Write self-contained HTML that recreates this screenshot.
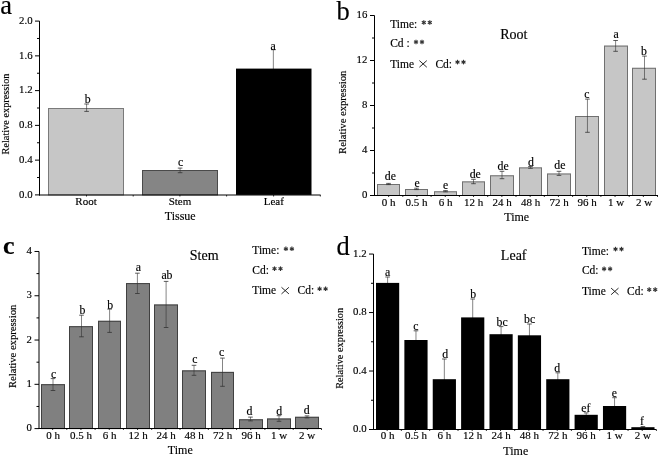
<!DOCTYPE html>
<html><head><meta charset="utf-8"><style>
html,body{margin:0;padding:0;background:#fff;width:660px;height:456px;overflow:hidden;}
svg{display:block;will-change:transform;}
text{font-family:"Liberation Serif", serif;stroke:#000;stroke-width:0.15px;}
</style></head><body>
<svg width="660" height="456" viewBox="0 0 660 456">
<rect width="660" height="456" fill="#fff"/>
<line x1="273.35" y1="49.7" x2="273.35" y2="88" stroke="#333" stroke-width="0.6"/>
<line x1="271.05" y1="49.7" x2="275.65" y2="49.7" stroke="#333" stroke-width="0.8"/>
<line x1="271.05" y1="88" x2="275.65" y2="88" stroke="#333" stroke-width="0.8"/>
<rect x="48" y="108" width="76" height="86.9" fill="#c6c6c6"/>
<rect x="48.5" y="108.5" width="75" height="86.4" fill="none" stroke="#7a7a7a" stroke-width="1"/>
<rect x="142" y="170" width="76" height="24.9" fill="#858585"/>
<rect x="142.5" y="170.5" width="75" height="24.4" fill="none" stroke="#4a4a4a" stroke-width="1"/>
<rect x="236" y="68.6" width="75.5" height="126.3" fill="#000"/>
<line x1="86.6" y1="104" x2="86.6" y2="111.4" stroke="#333" stroke-width="0.6"/>
<line x1="84.3" y1="104" x2="88.9" y2="104" stroke="#333" stroke-width="0.8"/>
<line x1="84.3" y1="111.4" x2="88.9" y2="111.4" stroke="#333" stroke-width="0.8"/>
<line x1="180.1" y1="168.1" x2="180.1" y2="172.7" stroke="#333" stroke-width="0.6"/>
<line x1="177.8" y1="168.1" x2="182.4" y2="168.1" stroke="#333" stroke-width="0.8"/>
<line x1="177.8" y1="172.7" x2="182.4" y2="172.7" stroke="#333" stroke-width="0.8"/>
<text font-size="11.8" text-anchor="middle" transform="translate(87.6,102.8) scale(1.0,1)">b</text>
<text font-size="11.8" text-anchor="middle" transform="translate(180.6,166.4) scale(1.0,1)">c</text>
<text font-size="11.8" text-anchor="middle" transform="translate(273.15,49.7) scale(1.0,1)">a</text>
<line x1="39.5" y1="21.1" x2="39.5" y2="195.5" stroke="#000" stroke-width="1"/>
<line x1="39" y1="195" x2="320.6" y2="195" stroke="#000" stroke-width="1"/>
<line x1="35" y1="194.9" x2="39.5" y2="194.9" stroke="#000" stroke-width="1"/>
<text x="32.6" y="197.6" font-size="10.8" text-anchor="end">0.0</text>
<line x1="35" y1="160.14" x2="39.5" y2="160.14" stroke="#000" stroke-width="1"/>
<text x="32.6" y="162.84" font-size="10.8" text-anchor="end">0.4</text>
<line x1="35" y1="125.38" x2="39.5" y2="125.38" stroke="#000" stroke-width="1"/>
<text x="32.6" y="128.08" font-size="10.8" text-anchor="end">0.8</text>
<line x1="35" y1="90.62" x2="39.5" y2="90.62" stroke="#000" stroke-width="1"/>
<text x="32.6" y="93.32" font-size="10.8" text-anchor="end">1.2</text>
<line x1="35" y1="55.86" x2="39.5" y2="55.86" stroke="#000" stroke-width="1"/>
<text x="32.6" y="58.56" font-size="10.8" text-anchor="end">1.6</text>
<line x1="35" y1="21.1" x2="39.5" y2="21.1" stroke="#000" stroke-width="1"/>
<text x="32.6" y="23.8" font-size="10.8" text-anchor="end">2.0</text>
<line x1="37" y1="177.52" x2="39.5" y2="177.52" stroke="#000" stroke-width="1"/>
<line x1="37" y1="142.76" x2="39.5" y2="142.76" stroke="#000" stroke-width="1"/>
<line x1="37" y1="108" x2="39.5" y2="108" stroke="#000" stroke-width="1"/>
<line x1="37" y1="73.24" x2="39.5" y2="73.24" stroke="#000" stroke-width="1"/>
<line x1="37" y1="38.48" x2="39.5" y2="38.48" stroke="#000" stroke-width="1"/>
<line x1="86.5" y1="195" x2="86.5" y2="196.5" stroke="#000" stroke-width="0.8"/>
<line x1="133.2" y1="195" x2="133.2" y2="196.5" stroke="#000" stroke-width="0.8"/>
<line x1="179.9" y1="195" x2="179.9" y2="196.5" stroke="#000" stroke-width="0.8"/>
<line x1="226.6" y1="195" x2="226.6" y2="196.5" stroke="#000" stroke-width="0.8"/>
<line x1="273.6" y1="195" x2="273.6" y2="196.5" stroke="#000" stroke-width="0.8"/>
<line x1="320.3" y1="195" x2="320.3" y2="196.5" stroke="#000" stroke-width="0.8"/>
<text x="86" y="205.4" font-size="11" text-anchor="middle">Root</text>
<text x="180" y="205.4" font-size="11" text-anchor="middle">Stem</text>
<text x="273.75" y="205.4" font-size="11" text-anchor="middle">Leaf</text>
<text x="180.2" y="219.6" font-size="12" text-anchor="middle">Tissue</text>
<text x="0" y="0" font-size="10.3" text-anchor="middle" transform="translate(9.2,114) rotate(-90)">Relative expression</text>
<text x="0.3" y="13.7" font-size="26.5">a</text>
<rect x="377" y="184" width="23" height="11.5" fill="#c6c6c6"/>
<rect x="377.5" y="184.5" width="22" height="11" fill="none" stroke="#707070" stroke-width="1"/>
<rect x="405" y="189" width="23" height="6.5" fill="#c6c6c6"/>
<rect x="405.5" y="189.5" width="22" height="6" fill="none" stroke="#707070" stroke-width="1"/>
<rect x="434" y="191.3" width="23" height="4.2" fill="#c6c6c6"/>
<rect x="434.5" y="191.8" width="22" height="3.7" fill="none" stroke="#707070" stroke-width="1"/>
<rect x="462" y="181.4" width="23" height="14.1" fill="#c6c6c6"/>
<rect x="462.5" y="181.9" width="22" height="13.6" fill="none" stroke="#707070" stroke-width="1"/>
<rect x="490" y="175.3" width="24" height="20.2" fill="#c6c6c6"/>
<rect x="490.5" y="175.8" width="23" height="19.7" fill="none" stroke="#707070" stroke-width="1"/>
<rect x="519" y="167.4" width="23" height="28.1" fill="#c6c6c6"/>
<rect x="519.5" y="167.9" width="22" height="27.6" fill="none" stroke="#707070" stroke-width="1"/>
<rect x="547" y="173.5" width="24" height="22" fill="#c6c6c6"/>
<rect x="547.5" y="174" width="23" height="21.5" fill="none" stroke="#707070" stroke-width="1"/>
<rect x="575" y="116" width="24" height="79.5" fill="#c6c6c6"/>
<rect x="575.5" y="116.5" width="23" height="79" fill="none" stroke="#707070" stroke-width="1"/>
<rect x="604" y="45.6" width="24" height="149.9" fill="#c6c6c6"/>
<rect x="604.5" y="46.1" width="23" height="149.4" fill="none" stroke="#707070" stroke-width="1"/>
<rect x="632" y="67.8" width="24" height="127.7" fill="#c6c6c6"/>
<rect x="632.5" y="68.3" width="23" height="127.2" fill="none" stroke="#707070" stroke-width="1"/>
<line x1="388.5" y1="183.4" x2="388.5" y2="184.6" stroke="#333" stroke-width="0.6"/>
<line x1="386.2" y1="183.4" x2="390.8" y2="183.4" stroke="#333" stroke-width="0.8"/>
<line x1="386.2" y1="184.6" x2="390.8" y2="184.6" stroke="#333" stroke-width="0.8"/>
<line x1="416.5" y1="188.2" x2="416.5" y2="189.6" stroke="#333" stroke-width="0.6"/>
<line x1="414.2" y1="188.2" x2="418.8" y2="188.2" stroke="#333" stroke-width="0.8"/>
<line x1="414.2" y1="189.6" x2="418.8" y2="189.6" stroke="#333" stroke-width="0.8"/>
<line x1="445.5" y1="190.6" x2="445.5" y2="191.8" stroke="#333" stroke-width="0.6"/>
<line x1="443.2" y1="190.6" x2="447.8" y2="190.6" stroke="#333" stroke-width="0.8"/>
<line x1="443.2" y1="191.8" x2="447.8" y2="191.8" stroke="#333" stroke-width="0.8"/>
<line x1="473.5" y1="179.3" x2="473.5" y2="183.7" stroke="#333" stroke-width="0.6"/>
<line x1="471.2" y1="179.3" x2="475.8" y2="179.3" stroke="#333" stroke-width="0.8"/>
<line x1="471.2" y1="183.7" x2="475.8" y2="183.7" stroke="#333" stroke-width="0.8"/>
<line x1="502" y1="171.3" x2="502" y2="178.7" stroke="#333" stroke-width="0.6"/>
<line x1="499.7" y1="171.3" x2="504.3" y2="171.3" stroke="#333" stroke-width="0.8"/>
<line x1="499.7" y1="178.7" x2="504.3" y2="178.7" stroke="#333" stroke-width="0.8"/>
<line x1="530.5" y1="166.5" x2="530.5" y2="168.3" stroke="#333" stroke-width="0.6"/>
<line x1="528.2" y1="166.5" x2="532.8" y2="166.5" stroke="#333" stroke-width="0.8"/>
<line x1="528.2" y1="168.3" x2="532.8" y2="168.3" stroke="#333" stroke-width="0.8"/>
<line x1="559" y1="171.3" x2="559" y2="175.4" stroke="#333" stroke-width="0.6"/>
<line x1="556.7" y1="171.3" x2="561.3" y2="171.3" stroke="#333" stroke-width="0.8"/>
<line x1="556.7" y1="175.4" x2="561.3" y2="175.4" stroke="#333" stroke-width="0.8"/>
<line x1="587.45" y1="99.1" x2="587.45" y2="132.3" stroke="#333" stroke-width="0.6"/>
<line x1="585.15" y1="99.1" x2="589.75" y2="99.1" stroke="#333" stroke-width="0.8"/>
<line x1="585.15" y1="132.3" x2="589.75" y2="132.3" stroke="#333" stroke-width="0.8"/>
<line x1="615.6" y1="40.5" x2="615.6" y2="51.3" stroke="#333" stroke-width="0.6"/>
<line x1="613.3" y1="40.5" x2="617.9" y2="40.5" stroke="#333" stroke-width="0.8"/>
<line x1="613.3" y1="51.3" x2="617.9" y2="51.3" stroke="#333" stroke-width="0.8"/>
<line x1="644.5" y1="56.1" x2="644.5" y2="79.2" stroke="#333" stroke-width="0.6"/>
<line x1="642.2" y1="56.1" x2="646.8" y2="56.1" stroke="#333" stroke-width="0.8"/>
<line x1="642.2" y1="79.2" x2="646.8" y2="79.2" stroke="#333" stroke-width="0.8"/>
<text font-size="11.8" text-anchor="middle" transform="translate(390.3,180.2) scale(1.0,1)">de</text>
<text font-size="11.8" text-anchor="middle" transform="translate(417.2,186.6) scale(1.0,1)">e</text>
<text font-size="11.8" text-anchor="middle" transform="translate(445.6,189.1) scale(1.0,1)">e</text>
<text font-size="11.8" text-anchor="middle" transform="translate(475.2,177.5) scale(1.0,1)">de</text>
<text font-size="11.8" text-anchor="middle" transform="translate(503.15,169.9) scale(1.0,1)">de</text>
<text font-size="11.8" text-anchor="middle" transform="translate(530.9,165.6) scale(1.0,1)">d</text>
<text font-size="11.8" text-anchor="middle" transform="translate(559.9,169.1) scale(1.0,1)">de</text>
<text font-size="11.8" text-anchor="middle" transform="translate(586.75,97.7) scale(1.0,1)">c</text>
<text font-size="11.8" text-anchor="middle" transform="translate(616.15,37.8) scale(1.0,1)">a</text>
<text font-size="11.8" text-anchor="middle" transform="translate(644,54.7) scale(1.0,1)">b</text>
<line x1="374.5" y1="15.5" x2="374.5" y2="196" stroke="#000" stroke-width="1"/>
<line x1="374" y1="195.5" x2="658" y2="195.5" stroke="#000" stroke-width="1"/>
<line x1="370" y1="195.5" x2="374.5" y2="195.5" stroke="#000" stroke-width="1"/>
<text x="367.4" y="198.2" font-size="10.8" text-anchor="end">0</text>
<line x1="370" y1="150.5" x2="374.5" y2="150.5" stroke="#000" stroke-width="1"/>
<text x="367.4" y="153.2" font-size="10.8" text-anchor="end">4</text>
<line x1="370" y1="105.5" x2="374.5" y2="105.5" stroke="#000" stroke-width="1"/>
<text x="367.4" y="108.2" font-size="10.8" text-anchor="end">8</text>
<line x1="370" y1="60.5" x2="374.5" y2="60.5" stroke="#000" stroke-width="1"/>
<text x="367.4" y="63.2" font-size="10.8" text-anchor="end">12</text>
<line x1="370" y1="15.5" x2="374.5" y2="15.5" stroke="#000" stroke-width="1"/>
<text x="367.4" y="18.2" font-size="10.8" text-anchor="end">16</text>
<line x1="372" y1="173" x2="374.5" y2="173" stroke="#000" stroke-width="1"/>
<line x1="372" y1="128" x2="374.5" y2="128" stroke="#000" stroke-width="1"/>
<line x1="372" y1="83" x2="374.5" y2="83" stroke="#000" stroke-width="1"/>
<line x1="372" y1="38" x2="374.5" y2="38" stroke="#000" stroke-width="1"/>
<line x1="388.65" y1="195.5" x2="388.65" y2="197" stroke="#000" stroke-width="0.8"/>
<line x1="402.8" y1="195.5" x2="402.8" y2="197" stroke="#000" stroke-width="0.8"/>
<line x1="416.95" y1="195.5" x2="416.95" y2="197" stroke="#000" stroke-width="0.8"/>
<line x1="431.1" y1="195.5" x2="431.1" y2="197" stroke="#000" stroke-width="0.8"/>
<line x1="445.25" y1="195.5" x2="445.25" y2="197" stroke="#000" stroke-width="0.8"/>
<line x1="459.4" y1="195.5" x2="459.4" y2="197" stroke="#000" stroke-width="0.8"/>
<line x1="473.55" y1="195.5" x2="473.55" y2="197" stroke="#000" stroke-width="0.8"/>
<line x1="487.7" y1="195.5" x2="487.7" y2="197" stroke="#000" stroke-width="0.8"/>
<line x1="501.85" y1="195.5" x2="501.85" y2="197" stroke="#000" stroke-width="0.8"/>
<line x1="516" y1="195.5" x2="516" y2="197" stroke="#000" stroke-width="0.8"/>
<line x1="530.15" y1="195.5" x2="530.15" y2="197" stroke="#000" stroke-width="0.8"/>
<line x1="544.3" y1="195.5" x2="544.3" y2="197" stroke="#000" stroke-width="0.8"/>
<line x1="558.45" y1="195.5" x2="558.45" y2="197" stroke="#000" stroke-width="0.8"/>
<line x1="572.6" y1="195.5" x2="572.6" y2="197" stroke="#000" stroke-width="0.8"/>
<line x1="586.75" y1="195.5" x2="586.75" y2="197" stroke="#000" stroke-width="0.8"/>
<line x1="600.9" y1="195.5" x2="600.9" y2="197" stroke="#000" stroke-width="0.8"/>
<line x1="615.05" y1="195.5" x2="615.05" y2="197" stroke="#000" stroke-width="0.8"/>
<line x1="629.2" y1="195.5" x2="629.2" y2="197" stroke="#000" stroke-width="0.8"/>
<line x1="643.35" y1="195.5" x2="643.35" y2="197" stroke="#000" stroke-width="0.8"/>
<line x1="657.5" y1="195.5" x2="657.5" y2="197" stroke="#000" stroke-width="0.8"/>
<text x="388.5" y="205.5" font-size="11" text-anchor="middle">0 h</text>
<text x="416.5" y="205.5" font-size="11" text-anchor="middle">0.5 h</text>
<text x="445.5" y="205.5" font-size="11" text-anchor="middle">6 h</text>
<text x="473.5" y="205.5" font-size="11" text-anchor="middle">12 h</text>
<text x="502" y="205.5" font-size="11" text-anchor="middle">24 h</text>
<text x="530.5" y="205.5" font-size="11" text-anchor="middle">48 h</text>
<text x="559" y="205.5" font-size="11" text-anchor="middle">72 h</text>
<text x="587" y="205.5" font-size="11" text-anchor="middle">96 h</text>
<text x="616" y="205.5" font-size="11" text-anchor="middle">1 w</text>
<text x="644" y="205.5" font-size="11" text-anchor="middle">2 w</text>
<text x="516.7" y="221" font-size="12" text-anchor="middle">Time</text>
<text x="0" y="0" font-size="10.6" text-anchor="middle" transform="translate(345.9,112.3) rotate(-90)">Relative expression</text>
<text x="336.4" y="19.6" font-size="26.5">b</text>
<text x="513.9" y="39.1" font-size="14" text-anchor="middle">Root</text>
<text x="390.2" y="27.9" font-size="11.5">Time:</text>
<line x1="423.8" y1="20.2" x2="423.8" y2="24.8" stroke="#333" stroke-width="1.15"/>
<line x1="421.81" y1="21.35" x2="425.79" y2="23.65" stroke="#333" stroke-width="1.15"/>
<line x1="421.81" y1="23.65" x2="425.79" y2="21.35" stroke="#333" stroke-width="1.15"/>
<line x1="429.8" y1="20.2" x2="429.8" y2="24.8" stroke="#333" stroke-width="1.15"/>
<line x1="427.81" y1="21.35" x2="431.79" y2="23.65" stroke="#333" stroke-width="1.15"/>
<line x1="427.81" y1="23.65" x2="431.79" y2="21.35" stroke="#333" stroke-width="1.15"/>
<text x="390.2" y="47.4" font-size="11.5">Cd :</text>
<line x1="416" y1="39.7" x2="416" y2="44.3" stroke="#333" stroke-width="1.15"/>
<line x1="414.01" y1="40.85" x2="417.99" y2="43.15" stroke="#333" stroke-width="1.15"/>
<line x1="414.01" y1="43.15" x2="417.99" y2="40.85" stroke="#333" stroke-width="1.15"/>
<line x1="422" y1="39.7" x2="422" y2="44.3" stroke="#333" stroke-width="1.15"/>
<line x1="420.01" y1="40.85" x2="423.99" y2="43.15" stroke="#333" stroke-width="1.15"/>
<line x1="420.01" y1="43.15" x2="423.99" y2="40.85" stroke="#333" stroke-width="1.15"/>
<text x="390.2" y="67.5" font-size="11.5">Time</text>
<line x1="419.4" y1="60.6" x2="426.8" y2="67.2" stroke="#111" stroke-width="0.9"/>
<line x1="419.4" y1="67.2" x2="426.8" y2="60.6" stroke="#111" stroke-width="0.9"/>
<text x="435.4" y="67.5" font-size="11.5">Cd:</text>
<line x1="457.5" y1="59.8" x2="457.5" y2="64.4" stroke="#333" stroke-width="1.15"/>
<line x1="455.51" y1="60.95" x2="459.49" y2="63.25" stroke="#333" stroke-width="1.15"/>
<line x1="455.51" y1="63.25" x2="459.49" y2="60.95" stroke="#333" stroke-width="1.15"/>
<line x1="463.5" y1="59.8" x2="463.5" y2="64.4" stroke="#333" stroke-width="1.15"/>
<line x1="461.51" y1="60.95" x2="465.49" y2="63.25" stroke="#333" stroke-width="1.15"/>
<line x1="461.51" y1="63.25" x2="465.49" y2="60.95" stroke="#333" stroke-width="1.15"/>
<rect x="41" y="384.2" width="24" height="44.4" fill="#808080"/>
<rect x="41.5" y="384.7" width="23" height="43.9" fill="none" stroke="#404040" stroke-width="1"/>
<rect x="69" y="326.2" width="24" height="102.4" fill="#808080"/>
<rect x="69.5" y="326.7" width="23" height="101.9" fill="none" stroke="#404040" stroke-width="1"/>
<rect x="98" y="320.8" width="23" height="107.8" fill="#808080"/>
<rect x="98.5" y="321.3" width="22" height="107.3" fill="none" stroke="#404040" stroke-width="1"/>
<rect x="126" y="283.1" width="24" height="145.5" fill="#808080"/>
<rect x="126.5" y="283.6" width="23" height="145" fill="none" stroke="#404040" stroke-width="1"/>
<rect x="154" y="304.5" width="24" height="124.1" fill="#808080"/>
<rect x="154.5" y="305" width="23" height="123.6" fill="none" stroke="#404040" stroke-width="1"/>
<rect x="182" y="370.4" width="24" height="58.2" fill="#808080"/>
<rect x="182.5" y="370.9" width="23" height="57.7" fill="none" stroke="#404040" stroke-width="1"/>
<rect x="211" y="371.9" width="23" height="56.7" fill="#808080"/>
<rect x="211.5" y="372.4" width="22" height="56.2" fill="none" stroke="#404040" stroke-width="1"/>
<rect x="239" y="419.3" width="24" height="9.3" fill="#808080"/>
<rect x="239.5" y="419.8" width="23" height="8.8" fill="none" stroke="#404040" stroke-width="1"/>
<rect x="267" y="418.5" width="24" height="10.1" fill="#808080"/>
<rect x="267.5" y="419" width="23" height="9.6" fill="none" stroke="#404040" stroke-width="1"/>
<rect x="295" y="416.8" width="24" height="11.8" fill="#808080"/>
<rect x="295.5" y="417.3" width="23" height="11.3" fill="none" stroke="#404040" stroke-width="1"/>
<line x1="53" y1="378.6" x2="53" y2="390.5" stroke="#333" stroke-width="0.6"/>
<line x1="50.7" y1="378.6" x2="55.3" y2="378.6" stroke="#333" stroke-width="0.8"/>
<line x1="50.7" y1="390.5" x2="55.3" y2="390.5" stroke="#333" stroke-width="0.8"/>
<line x1="81.5" y1="315.2" x2="81.5" y2="336.8" stroke="#333" stroke-width="0.6"/>
<line x1="79.2" y1="315.2" x2="83.8" y2="315.2" stroke="#333" stroke-width="0.8"/>
<line x1="79.2" y1="336.8" x2="83.8" y2="336.8" stroke="#333" stroke-width="0.8"/>
<line x1="109.6" y1="309.1" x2="109.6" y2="332.4" stroke="#333" stroke-width="0.6"/>
<line x1="107.3" y1="309.1" x2="111.9" y2="309.1" stroke="#333" stroke-width="0.8"/>
<line x1="107.3" y1="332.4" x2="111.9" y2="332.4" stroke="#333" stroke-width="0.8"/>
<line x1="137.4" y1="273.2" x2="137.4" y2="293.5" stroke="#333" stroke-width="0.6"/>
<line x1="135.1" y1="273.2" x2="139.7" y2="273.2" stroke="#333" stroke-width="0.8"/>
<line x1="135.1" y1="293.5" x2="139.7" y2="293.5" stroke="#333" stroke-width="0.8"/>
<line x1="166.1" y1="281.4" x2="166.1" y2="327.5" stroke="#333" stroke-width="0.6"/>
<line x1="163.8" y1="281.4" x2="168.4" y2="281.4" stroke="#333" stroke-width="0.8"/>
<line x1="163.8" y1="327.5" x2="168.4" y2="327.5" stroke="#333" stroke-width="0.8"/>
<line x1="194" y1="365.3" x2="194" y2="375.3" stroke="#333" stroke-width="0.6"/>
<line x1="191.7" y1="365.3" x2="196.3" y2="365.3" stroke="#333" stroke-width="0.8"/>
<line x1="191.7" y1="375.3" x2="196.3" y2="375.3" stroke="#333" stroke-width="0.8"/>
<line x1="222.5" y1="358.1" x2="222.5" y2="386.3" stroke="#333" stroke-width="0.6"/>
<line x1="220.2" y1="358.1" x2="224.8" y2="358.1" stroke="#333" stroke-width="0.8"/>
<line x1="220.2" y1="386.3" x2="224.8" y2="386.3" stroke="#333" stroke-width="0.8"/>
<line x1="250.5" y1="417.1" x2="250.5" y2="420.9" stroke="#333" stroke-width="0.6"/>
<line x1="248.2" y1="417.1" x2="252.8" y2="417.1" stroke="#333" stroke-width="0.8"/>
<line x1="248.2" y1="420.9" x2="252.8" y2="420.9" stroke="#333" stroke-width="0.8"/>
<line x1="279" y1="415.7" x2="279" y2="421.3" stroke="#333" stroke-width="0.6"/>
<line x1="276.7" y1="415.7" x2="281.3" y2="415.7" stroke="#333" stroke-width="0.8"/>
<line x1="276.7" y1="421.3" x2="281.3" y2="421.3" stroke="#333" stroke-width="0.8"/>
<line x1="307" y1="415.9" x2="307" y2="417.9" stroke="#333" stroke-width="0.6"/>
<line x1="304.7" y1="415.9" x2="309.3" y2="415.9" stroke="#333" stroke-width="0.8"/>
<line x1="304.7" y1="417.9" x2="309.3" y2="417.9" stroke="#333" stroke-width="0.8"/>
<text font-size="11.8" text-anchor="middle" transform="translate(53.65,377.6) scale(1.0,1)">c</text>
<text font-size="11.8" text-anchor="middle" transform="translate(82.5,313.7) scale(1.0,1)">b</text>
<text font-size="11.8" text-anchor="middle" transform="translate(110.25,308.5) scale(1.0,1)">b</text>
<text font-size="11.8" text-anchor="middle" transform="translate(138.45,271.2) scale(1.0,1)">a</text>
<text font-size="11.8" text-anchor="middle" transform="translate(166.95,278.7) scale(1.0,1)">ab</text>
<text font-size="11.8" text-anchor="middle" transform="translate(194.8,363) scale(1.0,1)">c</text>
<text font-size="11.8" text-anchor="middle" transform="translate(221.6,356.4) scale(1.0,1)">c</text>
<text font-size="11.8" text-anchor="middle" transform="translate(249.4,415.2) scale(1.0,1)">d</text>
<text font-size="11.8" text-anchor="middle" transform="translate(279.2,415) scale(1.0,1)">d</text>
<text font-size="11.8" text-anchor="middle" transform="translate(306.75,414.1) scale(1.0,1)">d</text>
<line x1="39" y1="251.48" x2="39" y2="429" stroke="#000" stroke-width="1"/>
<line x1="38.5" y1="428.5" x2="321.5" y2="428.5" stroke="#000" stroke-width="1"/>
<line x1="34.5" y1="428.6" x2="39" y2="428.6" stroke="#000" stroke-width="1"/>
<text x="31.9" y="431.3" font-size="10.8" text-anchor="end">0</text>
<line x1="34.5" y1="384.32" x2="39" y2="384.32" stroke="#000" stroke-width="1"/>
<text x="31.9" y="387.02" font-size="10.8" text-anchor="end">1</text>
<line x1="34.5" y1="340.04" x2="39" y2="340.04" stroke="#000" stroke-width="1"/>
<text x="31.9" y="342.74" font-size="10.8" text-anchor="end">2</text>
<line x1="34.5" y1="295.76" x2="39" y2="295.76" stroke="#000" stroke-width="1"/>
<text x="31.9" y="298.46" font-size="10.8" text-anchor="end">3</text>
<line x1="34.5" y1="251.48" x2="39" y2="251.48" stroke="#000" stroke-width="1"/>
<text x="31.9" y="254.18" font-size="10.8" text-anchor="end">4</text>
<line x1="36.5" y1="406.46" x2="39" y2="406.46" stroke="#000" stroke-width="1"/>
<line x1="36.5" y1="362.18" x2="39" y2="362.18" stroke="#000" stroke-width="1"/>
<line x1="36.5" y1="317.9" x2="39" y2="317.9" stroke="#000" stroke-width="1"/>
<line x1="36.5" y1="273.62" x2="39" y2="273.62" stroke="#000" stroke-width="1"/>
<line x1="52.65" y1="428.5" x2="52.65" y2="430" stroke="#000" stroke-width="0.8"/>
<line x1="66.8" y1="428.5" x2="66.8" y2="430" stroke="#000" stroke-width="0.8"/>
<line x1="80.95" y1="428.5" x2="80.95" y2="430" stroke="#000" stroke-width="0.8"/>
<line x1="95.1" y1="428.5" x2="95.1" y2="430" stroke="#000" stroke-width="0.8"/>
<line x1="109.25" y1="428.5" x2="109.25" y2="430" stroke="#000" stroke-width="0.8"/>
<line x1="123.4" y1="428.5" x2="123.4" y2="430" stroke="#000" stroke-width="0.8"/>
<line x1="137.55" y1="428.5" x2="137.55" y2="430" stroke="#000" stroke-width="0.8"/>
<line x1="151.7" y1="428.5" x2="151.7" y2="430" stroke="#000" stroke-width="0.8"/>
<line x1="165.85" y1="428.5" x2="165.85" y2="430" stroke="#000" stroke-width="0.8"/>
<line x1="180" y1="428.5" x2="180" y2="430" stroke="#000" stroke-width="0.8"/>
<line x1="194.15" y1="428.5" x2="194.15" y2="430" stroke="#000" stroke-width="0.8"/>
<line x1="208.3" y1="428.5" x2="208.3" y2="430" stroke="#000" stroke-width="0.8"/>
<line x1="222.45" y1="428.5" x2="222.45" y2="430" stroke="#000" stroke-width="0.8"/>
<line x1="236.6" y1="428.5" x2="236.6" y2="430" stroke="#000" stroke-width="0.8"/>
<line x1="250.75" y1="428.5" x2="250.75" y2="430" stroke="#000" stroke-width="0.8"/>
<line x1="264.9" y1="428.5" x2="264.9" y2="430" stroke="#000" stroke-width="0.8"/>
<line x1="279.05" y1="428.5" x2="279.05" y2="430" stroke="#000" stroke-width="0.8"/>
<line x1="293.2" y1="428.5" x2="293.2" y2="430" stroke="#000" stroke-width="0.8"/>
<line x1="307.35" y1="428.5" x2="307.35" y2="430" stroke="#000" stroke-width="0.8"/>
<line x1="321.5" y1="428.5" x2="321.5" y2="430" stroke="#000" stroke-width="0.8"/>
<text x="53" y="438.8" font-size="11" text-anchor="middle">0 h</text>
<text x="81" y="438.8" font-size="11" text-anchor="middle">0.5 h</text>
<text x="109.5" y="438.8" font-size="11" text-anchor="middle">6 h</text>
<text x="138" y="438.8" font-size="11" text-anchor="middle">12 h</text>
<text x="166" y="438.8" font-size="11" text-anchor="middle">24 h</text>
<text x="194" y="438.8" font-size="11" text-anchor="middle">48 h</text>
<text x="222.5" y="438.8" font-size="11" text-anchor="middle">72 h</text>
<text x="251" y="438.8" font-size="11" text-anchor="middle">96 h</text>
<text x="279" y="438.8" font-size="11" text-anchor="middle">1 w</text>
<text x="307" y="438.8" font-size="11" text-anchor="middle">2 w</text>
<text x="180.3" y="454.2" font-size="12" text-anchor="middle">Time</text>
<text x="0" y="0" font-size="10.6" text-anchor="middle" transform="translate(16.1,346.4) rotate(-90)">Relative expression</text>
<text x="3.1" y="254.2" font-size="26" font-weight="bold">c</text>
<text x="204.2" y="260.3" font-size="14" text-anchor="middle">Stem</text>
<text x="252.3" y="254.2" font-size="11.5">Time:</text>
<line x1="285.9" y1="246.5" x2="285.9" y2="251.1" stroke="#333" stroke-width="1.15"/>
<line x1="283.91" y1="247.65" x2="287.89" y2="249.95" stroke="#333" stroke-width="1.15"/>
<line x1="283.91" y1="249.95" x2="287.89" y2="247.65" stroke="#333" stroke-width="1.15"/>
<line x1="291.9" y1="246.5" x2="291.9" y2="251.1" stroke="#333" stroke-width="1.15"/>
<line x1="289.91" y1="247.65" x2="293.89" y2="249.95" stroke="#333" stroke-width="1.15"/>
<line x1="289.91" y1="249.95" x2="293.89" y2="247.65" stroke="#333" stroke-width="1.15"/>
<text x="252.3" y="274.1" font-size="11.5">Cd:</text>
<line x1="274.5" y1="266.4" x2="274.5" y2="271" stroke="#333" stroke-width="1.15"/>
<line x1="272.51" y1="267.55" x2="276.49" y2="269.85" stroke="#333" stroke-width="1.15"/>
<line x1="272.51" y1="269.85" x2="276.49" y2="267.55" stroke="#333" stroke-width="1.15"/>
<line x1="280.5" y1="266.4" x2="280.5" y2="271" stroke="#333" stroke-width="1.15"/>
<line x1="278.51" y1="267.55" x2="282.49" y2="269.85" stroke="#333" stroke-width="1.15"/>
<line x1="278.51" y1="269.85" x2="282.49" y2="267.55" stroke="#333" stroke-width="1.15"/>
<text x="252.3" y="294.2" font-size="11.5">Time</text>
<line x1="281.5" y1="287.3" x2="288.9" y2="293.9" stroke="#111" stroke-width="0.9"/>
<line x1="281.5" y1="293.9" x2="288.9" y2="287.3" stroke="#111" stroke-width="0.9"/>
<text x="297.5" y="294.2" font-size="11.5">Cd:</text>
<line x1="319.6" y1="286.5" x2="319.6" y2="291.1" stroke="#333" stroke-width="1.15"/>
<line x1="317.61" y1="287.65" x2="321.59" y2="289.95" stroke="#333" stroke-width="1.15"/>
<line x1="317.61" y1="289.95" x2="321.59" y2="287.65" stroke="#333" stroke-width="1.15"/>
<line x1="325.6" y1="286.5" x2="325.6" y2="291.1" stroke="#333" stroke-width="1.15"/>
<line x1="323.61" y1="287.65" x2="327.59" y2="289.95" stroke="#333" stroke-width="1.15"/>
<line x1="323.61" y1="289.95" x2="327.59" y2="287.65" stroke="#333" stroke-width="1.15"/>
<line x1="387.6" y1="277" x2="387.6" y2="300" stroke="#333" stroke-width="0.6"/>
<line x1="385.3" y1="277" x2="389.9" y2="277" stroke="#333" stroke-width="0.8"/>
<line x1="385.3" y1="300" x2="389.9" y2="300" stroke="#333" stroke-width="0.8"/>
<line x1="415.97" y1="330.8" x2="415.97" y2="350" stroke="#333" stroke-width="0.6"/>
<line x1="413.67" y1="330.8" x2="418.27" y2="330.8" stroke="#333" stroke-width="0.8"/>
<line x1="413.67" y1="350" x2="418.27" y2="350" stroke="#333" stroke-width="0.8"/>
<line x1="444.34" y1="359" x2="444.34" y2="400" stroke="#333" stroke-width="0.6"/>
<line x1="442.04" y1="359" x2="446.64" y2="359" stroke="#333" stroke-width="0.8"/>
<line x1="442.04" y1="400" x2="446.64" y2="400" stroke="#333" stroke-width="0.8"/>
<line x1="472.71" y1="299" x2="472.71" y2="336" stroke="#333" stroke-width="0.6"/>
<line x1="470.41" y1="299" x2="475.01" y2="299" stroke="#333" stroke-width="0.8"/>
<line x1="470.41" y1="336" x2="475.01" y2="336" stroke="#333" stroke-width="0.8"/>
<line x1="501.08" y1="326.6" x2="501.08" y2="342" stroke="#333" stroke-width="0.6"/>
<line x1="498.78" y1="326.6" x2="503.38" y2="326.6" stroke="#333" stroke-width="0.8"/>
<line x1="498.78" y1="342" x2="503.38" y2="342" stroke="#333" stroke-width="0.8"/>
<line x1="529.45" y1="324" x2="529.45" y2="346" stroke="#333" stroke-width="0.6"/>
<line x1="527.15" y1="324" x2="531.75" y2="324" stroke="#333" stroke-width="0.8"/>
<line x1="527.15" y1="346" x2="531.75" y2="346" stroke="#333" stroke-width="0.8"/>
<line x1="557.82" y1="372.8" x2="557.82" y2="386" stroke="#333" stroke-width="0.6"/>
<line x1="555.52" y1="372.8" x2="560.12" y2="372.8" stroke="#333" stroke-width="0.8"/>
<line x1="555.52" y1="386" x2="560.12" y2="386" stroke="#333" stroke-width="0.8"/>
<line x1="586.19" y1="412.9" x2="586.19" y2="416" stroke="#333" stroke-width="0.6"/>
<line x1="583.89" y1="412.9" x2="588.49" y2="412.9" stroke="#333" stroke-width="0.8"/>
<line x1="583.89" y1="416" x2="588.49" y2="416" stroke="#333" stroke-width="0.8"/>
<line x1="614.56" y1="397.7" x2="614.56" y2="414" stroke="#333" stroke-width="0.6"/>
<line x1="612.26" y1="397.7" x2="616.86" y2="397.7" stroke="#333" stroke-width="0.8"/>
<line x1="612.26" y1="414" x2="616.86" y2="414" stroke="#333" stroke-width="0.8"/>
<line x1="642.93" y1="426.5" x2="642.93" y2="428" stroke="#333" stroke-width="0.6"/>
<line x1="640.63" y1="426.5" x2="645.23" y2="426.5" stroke="#333" stroke-width="0.8"/>
<line x1="640.63" y1="428" x2="645.23" y2="428" stroke="#333" stroke-width="0.8"/>
<rect x="376" y="282.9" width="23.2" height="146.6" fill="#000"/>
<rect x="404.37" y="340" width="23.2" height="89.5" fill="#000"/>
<rect x="432.74" y="379.2" width="23.2" height="50.3" fill="#000"/>
<rect x="461.11" y="317.4" width="23.2" height="112.1" fill="#000"/>
<rect x="489.48" y="334.2" width="23.2" height="95.3" fill="#000"/>
<rect x="517.85" y="335.3" width="23.2" height="94.2" fill="#000"/>
<rect x="546.22" y="379.2" width="23.2" height="50.3" fill="#000"/>
<rect x="574.59" y="414.8" width="23.2" height="14.7" fill="#000"/>
<rect x="602.96" y="406" width="23.2" height="23.5" fill="#000"/>
<rect x="631.33" y="427.2" width="23.2" height="2.3" fill="#000"/>
<text font-size="11.8" text-anchor="middle" transform="translate(387.5,275.8) scale(1.0,1)">a</text>
<text font-size="11.8" text-anchor="middle" transform="translate(415.97,330) scale(1.0,1)">c</text>
<text font-size="11.8" text-anchor="middle" transform="translate(445.24,358.4) scale(1.0,1)">d</text>
<text font-size="11.8" text-anchor="middle" transform="translate(473.11,298.4) scale(1.0,1)">b</text>
<text font-size="11.8" text-anchor="middle" transform="translate(502.18,326) scale(1.0,1)">bc</text>
<text font-size="11.8" text-anchor="middle" transform="translate(529.55,323.4) scale(1.0,1)">bc</text>
<text font-size="11.8" text-anchor="middle" transform="translate(557.12,372) scale(1.0,1)">d</text>
<text font-size="11.8" text-anchor="middle" transform="translate(585.89,412.3) scale(1.0,1)">ef</text>
<text font-size="11.8" text-anchor="middle" transform="translate(614.26,397.1) scale(1.0,1)">e</text>
<text font-size="11.8" text-anchor="middle" transform="translate(641.93,425.3) scale(1.0,1)">f</text>
<line x1="373.5" y1="254.06" x2="373.5" y2="430" stroke="#000" stroke-width="1"/>
<line x1="373" y1="429.5" x2="656.4" y2="429.5" stroke="#000" stroke-width="1"/>
<line x1="369" y1="429.5" x2="373.5" y2="429.5" stroke="#000" stroke-width="1"/>
<text x="366.6" y="432.2" font-size="10.8" text-anchor="end">0.0</text>
<line x1="369" y1="371.02" x2="373.5" y2="371.02" stroke="#000" stroke-width="1"/>
<text x="366.6" y="373.72" font-size="10.8" text-anchor="end">0.4</text>
<line x1="369" y1="312.54" x2="373.5" y2="312.54" stroke="#000" stroke-width="1"/>
<text x="366.6" y="315.24" font-size="10.8" text-anchor="end">0.8</text>
<line x1="369" y1="254.06" x2="373.5" y2="254.06" stroke="#000" stroke-width="1"/>
<text x="366.6" y="256.76" font-size="10.8" text-anchor="end">1.2</text>
<line x1="371" y1="400.26" x2="373.5" y2="400.26" stroke="#000" stroke-width="1"/>
<line x1="371" y1="341.78" x2="373.5" y2="341.78" stroke="#000" stroke-width="1"/>
<line x1="371" y1="283.3" x2="373.5" y2="283.3" stroke="#000" stroke-width="1"/>
<line x1="387.17" y1="429.5" x2="387.17" y2="431" stroke="#000" stroke-width="0.8"/>
<line x1="401.34" y1="429.5" x2="401.34" y2="431" stroke="#000" stroke-width="0.8"/>
<line x1="415.51" y1="429.5" x2="415.51" y2="431" stroke="#000" stroke-width="0.8"/>
<line x1="429.68" y1="429.5" x2="429.68" y2="431" stroke="#000" stroke-width="0.8"/>
<line x1="443.85" y1="429.5" x2="443.85" y2="431" stroke="#000" stroke-width="0.8"/>
<line x1="458.02" y1="429.5" x2="458.02" y2="431" stroke="#000" stroke-width="0.8"/>
<line x1="472.19" y1="429.5" x2="472.19" y2="431" stroke="#000" stroke-width="0.8"/>
<line x1="486.36" y1="429.5" x2="486.36" y2="431" stroke="#000" stroke-width="0.8"/>
<line x1="500.53" y1="429.5" x2="500.53" y2="431" stroke="#000" stroke-width="0.8"/>
<line x1="514.7" y1="429.5" x2="514.7" y2="431" stroke="#000" stroke-width="0.8"/>
<line x1="528.87" y1="429.5" x2="528.87" y2="431" stroke="#000" stroke-width="0.8"/>
<line x1="543.04" y1="429.5" x2="543.04" y2="431" stroke="#000" stroke-width="0.8"/>
<line x1="557.21" y1="429.5" x2="557.21" y2="431" stroke="#000" stroke-width="0.8"/>
<line x1="571.38" y1="429.5" x2="571.38" y2="431" stroke="#000" stroke-width="0.8"/>
<line x1="585.55" y1="429.5" x2="585.55" y2="431" stroke="#000" stroke-width="0.8"/>
<line x1="599.72" y1="429.5" x2="599.72" y2="431" stroke="#000" stroke-width="0.8"/>
<line x1="613.89" y1="429.5" x2="613.89" y2="431" stroke="#000" stroke-width="0.8"/>
<line x1="628.06" y1="429.5" x2="628.06" y2="431" stroke="#000" stroke-width="0.8"/>
<line x1="642.23" y1="429.5" x2="642.23" y2="431" stroke="#000" stroke-width="0.8"/>
<line x1="656.4" y1="429.5" x2="656.4" y2="431" stroke="#000" stroke-width="0.8"/>
<text x="387.6" y="439.4" font-size="11" text-anchor="middle">0 h</text>
<text x="415.97" y="439.4" font-size="11" text-anchor="middle">0.5 h</text>
<text x="444.34" y="439.4" font-size="11" text-anchor="middle">6 h</text>
<text x="472.71" y="439.4" font-size="11" text-anchor="middle">12 h</text>
<text x="501.08" y="439.4" font-size="11" text-anchor="middle">24 h</text>
<text x="529.45" y="439.4" font-size="11" text-anchor="middle">48 h</text>
<text x="557.82" y="439.4" font-size="11" text-anchor="middle">72 h</text>
<text x="586.19" y="439.4" font-size="11" text-anchor="middle">96 h</text>
<text x="614.56" y="439.4" font-size="11" text-anchor="middle">1 w</text>
<text x="642.93" y="439.4" font-size="11" text-anchor="middle">2 w</text>
<text x="515.8" y="455" font-size="12" text-anchor="middle">Time</text>
<text x="0" y="0" font-size="10.3" text-anchor="middle" transform="translate(342.5,348.4) rotate(-90)">Relative expression</text>
<text x="336.5" y="254.8" font-size="26.5">d</text>
<text x="513.7" y="259.6" font-size="14" text-anchor="middle">Leaf</text>
<text x="581.9" y="254.5" font-size="11.5">Time:</text>
<line x1="615.5" y1="246.8" x2="615.5" y2="251.4" stroke="#333" stroke-width="1.15"/>
<line x1="613.51" y1="247.95" x2="617.49" y2="250.25" stroke="#333" stroke-width="1.15"/>
<line x1="613.51" y1="250.25" x2="617.49" y2="247.95" stroke="#333" stroke-width="1.15"/>
<line x1="621.5" y1="246.8" x2="621.5" y2="251.4" stroke="#333" stroke-width="1.15"/>
<line x1="619.51" y1="247.95" x2="623.49" y2="250.25" stroke="#333" stroke-width="1.15"/>
<line x1="619.51" y1="250.25" x2="623.49" y2="247.95" stroke="#333" stroke-width="1.15"/>
<text x="581.9" y="274.3" font-size="11.5">Cd:</text>
<line x1="604.1" y1="266.6" x2="604.1" y2="271.2" stroke="#333" stroke-width="1.15"/>
<line x1="602.11" y1="267.75" x2="606.09" y2="270.05" stroke="#333" stroke-width="1.15"/>
<line x1="602.11" y1="270.05" x2="606.09" y2="267.75" stroke="#333" stroke-width="1.15"/>
<line x1="610.1" y1="266.6" x2="610.1" y2="271.2" stroke="#333" stroke-width="1.15"/>
<line x1="608.11" y1="267.75" x2="612.09" y2="270.05" stroke="#333" stroke-width="1.15"/>
<line x1="608.11" y1="270.05" x2="612.09" y2="267.75" stroke="#333" stroke-width="1.15"/>
<text x="581.9" y="295" font-size="11.5">Time</text>
<line x1="611.1" y1="288.1" x2="618.5" y2="294.7" stroke="#111" stroke-width="0.9"/>
<line x1="611.1" y1="294.7" x2="618.5" y2="288.1" stroke="#111" stroke-width="0.9"/>
<text x="627.1" y="295" font-size="11.5">Cd:</text>
<line x1="649.2" y1="287.3" x2="649.2" y2="291.9" stroke="#333" stroke-width="1.15"/>
<line x1="647.21" y1="288.45" x2="651.19" y2="290.75" stroke="#333" stroke-width="1.15"/>
<line x1="647.21" y1="290.75" x2="651.19" y2="288.45" stroke="#333" stroke-width="1.15"/>
<line x1="655.2" y1="287.3" x2="655.2" y2="291.9" stroke="#333" stroke-width="1.15"/>
<line x1="653.21" y1="288.45" x2="657.19" y2="290.75" stroke="#333" stroke-width="1.15"/>
<line x1="653.21" y1="290.75" x2="657.19" y2="288.45" stroke="#333" stroke-width="1.15"/>
</svg>
</body></html>
